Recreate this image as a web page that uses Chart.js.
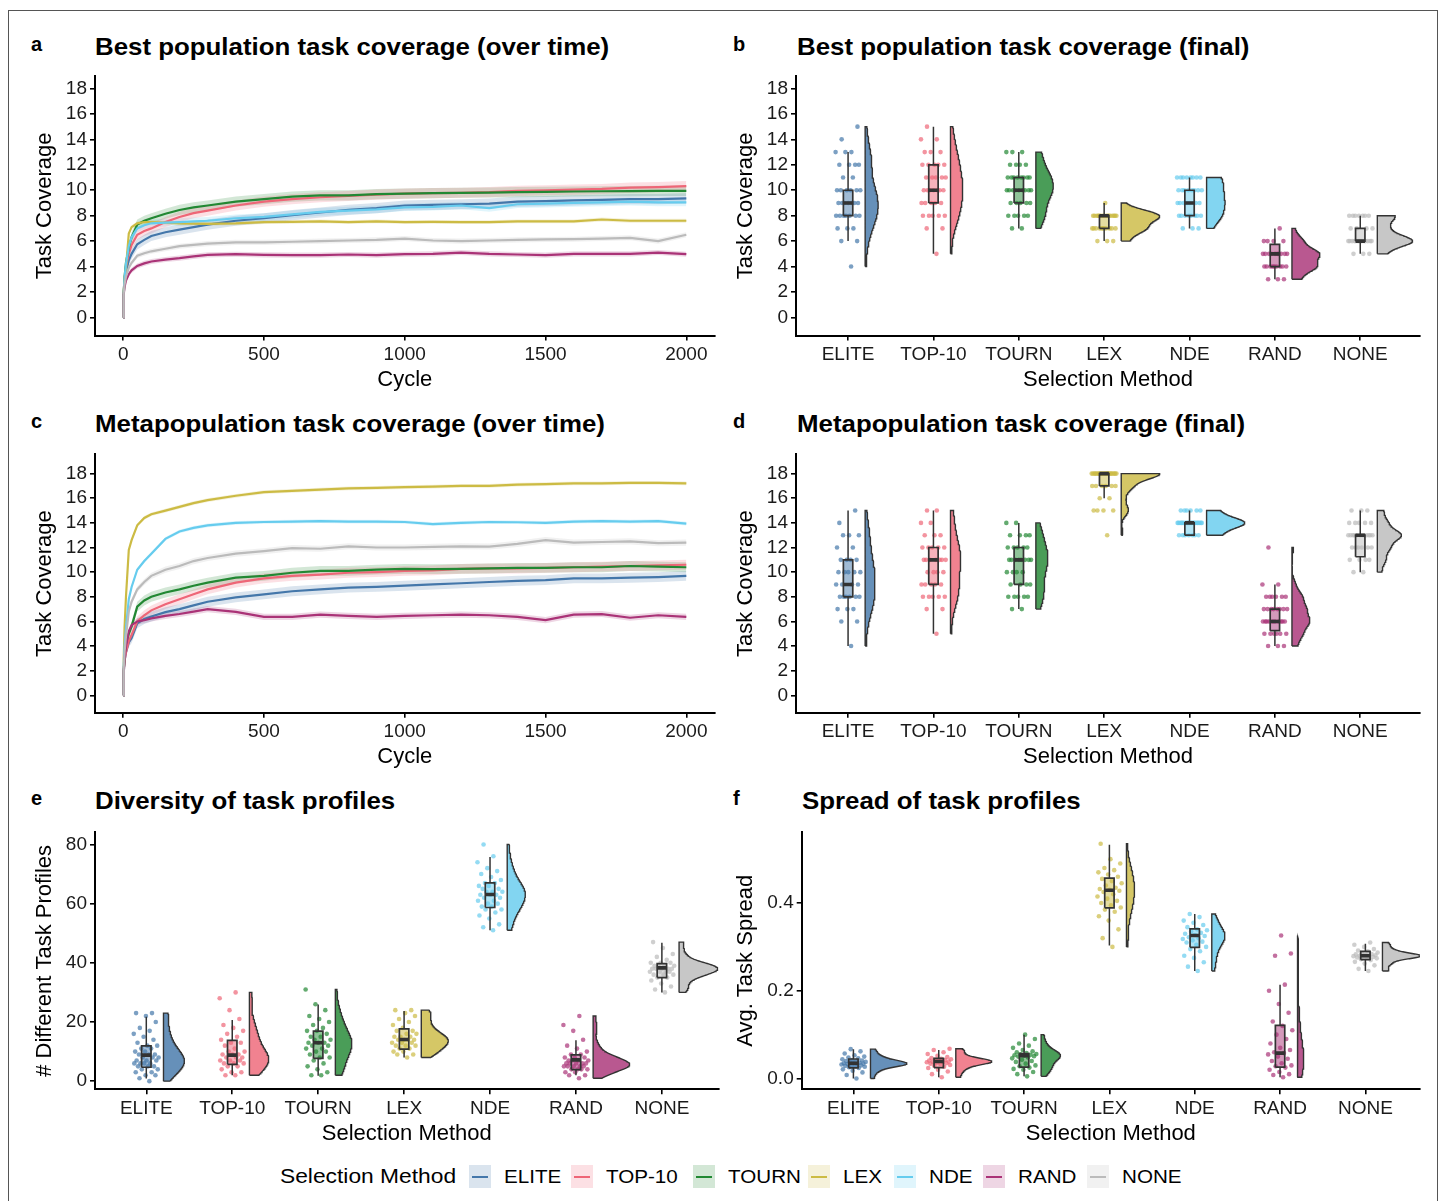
<!DOCTYPE html>
<html><head><meta charset="utf-8">
<script src="https://cdn.jsdelivr.net/npm/chart.js@4.4.1/dist/chart.umd.min.js"></script>
<style>
body{margin:0;background:#fff;width:1448px;height:1201px;position:relative;overflow:hidden;font-family:"Liberation Sans",Arial,sans-serif;color:#000;}
.frame{position:absolute;left:8px;top:10px;width:1430px;height:1220px;border:1px solid #555;box-sizing:border-box;}
.t{position:absolute;white-space:nowrap;line-height:1;font-weight:bold;transform-origin:0 50%;}
canvas{position:absolute;}
.lg{position:absolute;white-space:nowrap;line-height:1;transform-origin:0 50%;}
.sw{position:absolute;width:22px;height:23px;}
.sw i{position:absolute;left:3px;right:3px;top:10.5px;height:2px;}
</style></head>
<body>
<div class="frame"></div>
<script>
// ---------------- DATA ----------------
const CATS = ['ELITE','TOP-10','TOURN','LEX','NDE','RAND','NONE'];
const CYCLES = [0,2,5,10,20,30,50,75,100,150,200,250,300,400,500,600,700,800,900,1000,1100,1200,1300,1400,1500,1600,1700,1800,1900,2000];

// a: best population task coverage over time
const ELITE_A = [0,1.8,2.8,3.6,4.5,5.0,5.75,6.1,6.4,6.7,6.9,7.1,7.3,7.6,7.8,8.05,8.25,8.45,8.6,8.8,8.85,8.9,8.95,9.1,9.15,9.2,9.25,9.3,9.3,9.36];
const TOP10_A = [0,1.9,3.0,4.0,5.0,5.7,6.5,6.8,7.0,7.5,7.9,8.2,8.4,8.8,9.1,9.3,9.45,9.55,9.65,9.74,9.78,9.8,9.85,9.95,10.0,10.05,10.1,10.2,10.25,10.33];
const TOURN_A = [0,2.0,3.2,4.3,5.5,6.3,7.3,7.6,7.8,8.15,8.45,8.65,8.8,9.1,9.3,9.5,9.6,9.6,9.7,9.74,9.78,9.8,9.82,9.85,9.87,9.9,9.92,9.93,9.95,9.95];
const LEX_A   = [0,2.0,3.0,3.9,6.6,7.1,7.4,7.5,7.5,7.45,7.4,7.38,7.35,7.4,7.5,7.52,7.55,7.5,7.55,7.5,7.52,7.5,7.5,7.55,7.55,7.55,7.7,7.6,7.6,7.6];
const NDE_A   = [0,2.0,3.1,4.2,5.6,6.3,7.0,7.25,7.4,7.45,7.5,7.55,7.6,7.8,7.9,8.1,8.3,8.4,8.5,8.66,8.7,8.8,8.6,8.9,8.95,9.0,9.05,9.1,9.05,9.05];
const RAND_A  = [0,1.8,2.4,2.9,3.4,3.7,4.05,4.25,4.4,4.55,4.66,4.8,4.92,4.97,4.92,4.9,4.9,4.95,4.9,4.97,5.0,5.1,5.0,4.95,4.9,5.0,5.0,5.0,5.1,4.97];
const NONE_A  = [0,1.9,2.6,3.2,3.9,4.3,4.85,5.05,5.2,5.4,5.6,5.7,5.8,5.9,5.9,5.95,6.0,6.05,6.1,6.2,6.05,6.0,6.05,6.1,6.13,6.15,6.2,6.26,6.0,6.5];
const CI_A    = [0.4,0.4,0.4,0.15,0.3,0.2,0.2];

// c: metapopulation task coverage over time
const ELITE_C = [0,1.8,2.8,3.5,4.3,4.65,5.85,6.2,6.4,6.75,7.0,7.3,7.6,7.95,8.2,8.45,8.6,8.75,8.8,8.9,9.0,9.1,9.2,9.3,9.35,9.5,9.5,9.55,9.6,9.7];
const TOP10_C = [0,1.9,2.8,3.5,4.4,4.9,6.0,6.5,6.9,7.4,7.8,8.2,8.6,9.15,9.5,9.7,9.8,9.95,10.0,10.1,10.15,10.27,10.3,10.3,10.35,10.4,10.45,10.5,10.55,10.6];
const TOURN_C = [0,2.0,3.2,4.2,5.0,5.6,7.2,7.7,8.0,8.35,8.6,8.9,9.15,9.55,9.7,9.95,10.1,10.1,10.2,10.27,10.25,10.27,10.3,10.35,10.35,10.4,10.4,10.5,10.45,10.4];
const LEX_C   = [0,3.0,5.5,8.0,11.8,12.6,13.8,14.4,14.7,15.0,15.3,15.6,15.85,16.2,16.5,16.6,16.7,16.8,16.85,16.9,16.95,17.0,17.0,17.1,17.15,17.2,17.2,17.25,17.25,17.2];
const NDE_C   = [0,2.5,4.0,5.5,7.8,8.8,10.2,10.9,11.5,12.7,13.3,13.6,13.8,14.0,14.07,14.1,14.15,14.1,14.1,14.07,13.9,14.0,14.07,14.05,14.0,14.1,14.15,14.1,14.15,13.94];
const RAND_C  = [0,2.0,3.0,4.0,5.2,5.7,6.0,6.1,6.25,6.45,6.6,6.8,7.0,6.77,6.37,6.37,6.55,6.45,6.37,6.45,6.5,6.55,6.5,6.37,6.1,6.55,6.6,6.3,6.5,6.37];
const NONE_C  = [0,2.2,3.5,4.8,6.8,7.6,8.6,9.2,9.7,10.2,10.5,10.9,11.15,11.5,11.7,11.95,11.9,12.1,12.0,12.0,12.05,12.1,12.08,12.3,12.6,12.4,12.45,12.5,12.35,12.4];
const CI_C    = [0.4,0.4,0.4,0.15,0.15,0.25,0.25];

// b: best population task coverage (final), one value per replicate
const ELITE_B = [4,6,6,7,7,7,8,8,8,8,8,8,8,9,9,9,9,9,9,9,10,10,10,10,10,10,11,11,12,12,12,12,13,13,13,14,15];
const TOP10_B = [5,7,7,8,8,8,8,8,9,9,9,9,9,10,10,10,10,10,10,10,11,11,11,11,11,12,12,12,12,12,13,13,13,14,14,15];
const TOURN_B = [7,7,8,8,8,8,8,9,9,9,9,9,10,10,10,10,10,10,10,10,10,11,11,11,11,11,11,11,11,12,12,12,12,13,13,13];
const LEX_B   = [6,6,6,7,7,7,7,7,7,7,7,7,7,8,8,8,8,8,8,8,8,8,8,8,8,8,8,8,8,9];
const NDE_B   = [7,7,7,8,8,8,8,8,8,8,8,9,9,9,9,9,9,9,9,9,10,10,10,10,10,10,10,10,11,11,11,11,11,11,11,11];
const RAND_B  = [3,3,3,4,4,4,4,4,4,4,4,4,5,5,5,5,5,5,5,5,5,5,6,6,6,6,7];
const NONE_B  = [5,5,5,6,6,6,6,6,6,6,6,6,6,6,6,6,6,7,7,7,7,8,8,8,8,8,8,8];
const B_LO  = [6,5,7,6,7,3,5];
const B_Q1  = [8,9,9,7,8,4,6];
const B_MED = [9,10,10,8,9,5,6];
const B_Q3  = [10,12,11,8,10,5.75,7];
const B_HI  = [13,15,13,9,11,7,8];

// d: metapopulation task coverage (final)
const ELITE_D = [4,6,6,7,7,7,8,8,8,8,8,8,9,9,9,9,10,10,10,10,10,11,11,11,11,12,12,13,13,13,14,15];
const TOP10_D = [5,7,7,8,8,8,8,8,9,9,9,9,9,10,10,10,10,11,11,11,11,11,11,11,12,12,12,12,12,13,13,13,14,14,15,15];
const TOURN_D = [7,7,8,8,8,8,8,9,9,9,9,10,10,10,10,11,11,11,11,11,11,11,11,12,12,12,12,12,13,13,13,13,14,14];
const LEX_D   = [13,15,15,15,15,16,16,17,17,17,17,17,17,18,18,18,18,18,18,18,18,18,18,18,18,18,18,18,18,18,18,18,18,18,18];
const NDE_D   = [13,13,13,13,13,13,13,14,14,14,14,14,14,14,14,14,14,14,14,14,14,14,14,14,14,14,14,15,15,15,15,15,15];
const RAND_D  = [4,4,4,5,5,5,5,5,5,6,6,6,6,6,6,6,6,6,6,7,7,7,7,7,7,7,7,8,8,8,8,8,8,9,9,12];
const NONE_D  = [10,10,11,11,11,11,12,12,12,12,12,12,13,13,13,13,13,13,13,13,13,13,13,13,14,14,14,14,14,15,15,15];
const D_LO  = [4,5,7,16,13,4,10];
const D_Q1  = [8,9,9,17,13,5.25,11.25];
const D_MED = [9,11,11,18,14,6,13];
const D_Q3  = [11,12,12,18,14,7,13];
const D_HI  = [15,15,14,18,15,9,15];

// e: number of different task profiles
const ELITE_E = [0,1,2,2,3,3,4,4,5,5,5,6,6,6,6,7,7,7,8,8,8,9,9,9,10,10,11,11,12,12,13,14,15,16,17,18,20,22,23,23];
const TOP10_E = [2,2,3,3,4,5,5,6,6,6,7,7,7,8,8,8,9,9,9,10,10,11,12,13,13,14,15,16,17,18,19,21,24,28,30];
const TOURN_E = [2,2,3,4,5,6,7,8,8,9,10,10,11,11,12,12,13,13,13,14,14,15,15,16,17,17,18,19,20,21,22,24,26,31];
const LEX_E   = [8,9,9,10,10,11,11,12,12,12,13,13,13,14,14,14,14,15,15,15,16,16,17,17,18,19,20,21,22,23,24,24];
const NDE_E   = [51,52,53,55,56,57,58,58,59,59,60,60,61,61,62,62,63,63,63,64,64,64,65,65,66,66,67,67,68,69,70,71,72,74,76,80];
const RAND_E  = [1,2,2,3,3,4,4,4,4,5,5,5,5,5,6,6,6,6,6,7,7,7,7,8,8,8,9,9,10,11,12,14,17,19,22];
const NONE_E  = [30,31,32,33,34,35,35,36,36,36,37,37,37,37,38,38,38,38,38,39,39,39,39,40,40,40,41,42,43,45,47];
const E_LO  = [0.9,2,1.8,8,51,2,30];
const E_Q1  = [4.7,5.7,7.7,10.8,58.7,3.9,35];
const E_MED = [8.8,8.8,13,14.1,63.1,7.2,38.3];
const E_Q3  = [11.9,13.8,16.9,17.7,67,8.9,39.7];
const E_HI  = [21.8,20.7,25.9,23.7,75.8,13.8,46.8];

// f: average task spread
const ELITE_F = [0.0,0.008,0.014,0.018,0.021,0.024,0.026,0.027,0.028,0.029,0.03,0.031,0.032,0.033,0.033,0.034,0.035,0.035,0.036,0.037,0.038,0.039,0.04,0.041,0.042,0.044,0.046,0.048,0.05,0.053,0.057,0.062,0.067];
const TOP10_F = [0.003,0.01,0.016,0.02,0.024,0.027,0.029,0.031,0.033,0.034,0.035,0.036,0.037,0.038,0.038,0.039,0.04,0.041,0.042,0.043,0.044,0.045,0.047,0.049,0.052,0.056,0.06,0.065,0.068];
const TOURN_F = [0.005,0.01,0.015,0.02,0.022,0.025,0.028,0.03,0.034,0.038,0.04,0.043,0.046,0.048,0.05,0.051,0.052,0.053,0.054,0.055,0.056,0.058,0.06,0.062,0.065,0.07,0.075,0.08,0.09,0.1];
const LEX_F   = [0.30,0.32,0.34,0.36,0.37,0.38,0.385,0.39,0.395,0.40,0.405,0.41,0.415,0.42,0.425,0.428,0.43,0.432,0.435,0.44,0.445,0.45,0.455,0.46,0.465,0.47,0.475,0.48,0.49,0.50,0.535];
const NDE_F   = [0.245,0.255,0.265,0.275,0.28,0.29,0.295,0.30,0.305,0.31,0.312,0.315,0.318,0.32,0.322,0.325,0.327,0.33,0.332,0.335,0.338,0.34,0.345,0.35,0.355,0.36,0.368,0.375];
const RAND_F  = [0.003,0.008,0.01,0.015,0.02,0.025,0.028,0.03,0.035,0.04,0.045,0.05,0.055,0.058,0.06,0.065,0.07,0.08,0.09,0.1,0.11,0.12,0.13,0.15,0.17,0.2,0.214,0.28,0.285,0.326];
const NONE_F  = [0.245,0.25,0.258,0.262,0.266,0.27,0.272,0.274,0.275,0.276,0.277,0.278,0.279,0.28,0.28,0.281,0.282,0.283,0.284,0.285,0.287,0.29,0.292,0.295,0.3,0.305,0.31];
const F_LO  = [0,0.003,0.005,0.303,0.245,0.003,0.245];
const F_Q1  = [0.0245,0.025,0.026,0.389,0.299,0.026,0.271];
const F_MED = [0.035,0.039,0.052,0.429,0.326,0.058,0.28];
const F_Q3  = [0.0446,0.046,0.057,0.457,0.341,0.121,0.29];
const F_HI  = [0.067,0.065,0.1,0.533,0.375,0.214,0.307];

// tick labels
const COV_TICKS = [0,2,4,6,8,10,12,14,16,18];
const CYCLE_TICKS = [0,500,1000,1500,2000];
const CAT_TICKS = [0,1,2,3,4,5,6];
const PROFILE_TICKS = [0,20,40,60,80];
const SPREAD_TICKS = [0,0.2,0.4];

// ---------------- STYLE ----------------
const COLORS = ['#4477AA','#EE6677','#228833','#CCBB44','#66CCEE','#AA3377','#BBBBBB'];
const FONT = "'Liberation Sans', Arial, sans-serif";
const TEXT_STRETCH = 1.077;
Chart.defaults.font.family = FONT;
Chart.defaults.color = '#1a1a1a';

function rgba(hex, a) {
  const n = parseInt(hex.slice(1), 16);
  return `rgba(${(n>>16)&255},${(n>>8)&255},${n&255},${a})`;
}

function addText(txt, left, baseline, size, cls, stretch) {
  const d = document.createElement('div');
  d.className = cls || 't';
  d.textContent = txt;
  d.style.left = left + 'px';
  d.style.fontSize = size + 'px';
  d.style.top = (baseline - 0.8465 * size) + 'px';
  if (stretch) d.style.transform = `scaleX(${stretch})`;
  document.body.appendChild(d);
  return d;
}

function axisCfg(min, max, ticks, fmt, title, fit, titlePad) {
  return {
    type: 'linear', min, max,
    afterBuildTicks: s => { s.ticks = ticks.map(v => ({ value: v })); },
    afterFit: fit,
    ticks: { autoSkip: false, maxRotation: 0, padding: 3, font: { size: 19 }, color: '#1a1a1a', callback: fmt },
    grid: { display: true, drawOnChartArea: false, drawTicks: true, tickLength: 5, color: '#000', lineWidth: 1.6 },
    border: { display: true, color: '#000', width: 2 },
    title: { display: true, text: title, color: '#000', font: { size: 22 }, padding: titlePad }
  };
}

function makeChart(box, area, xr, yr, xTicks, xFmt, yTicks, yFmt, xTitle, yTitle, datasets) {
  const c = document.createElement('canvas');
  c.width = box.w; c.height = box.h;
  c.style.left = box.x + 'px'; c.style.top = box.y + 'px';
  c.style.width = box.w + 'px'; c.style.height = box.h + 'px';
  document.body.appendChild(c);
  const yW = area.left - box.x;
  const xH = (box.y + box.h) - area.bottom;
  const xTitleCenter = area.bottom + 44.2;
  const pb = (box.y + box.h) - 13.2 - xTitleCenter;
  const pt = area.yTitleX - box.x - 13.2;
  new Chart(c, {
    type: 'line',
    data: { datasets },
    options: {
      responsive: false, animation: false, devicePixelRatio: 1,
      layout: { padding: { left: 0, top: area.top - box.y, right: (box.x + box.w) - area.right, bottom: 0 } },
      plugins: { legend: { display: false }, tooltip: { enabled: false } },
      elements: { point: { radius: 0 }, line: { tension: 0 } },
      scales: {
        x: axisCfg(xr[0], xr[1], xTicks, xFmt, xTitle, s => { s.height = xH; }, { top: 0, bottom: pb }),
        y: axisCfg(yr[0], yr[1], yTicks, yFmt, yTitle, s => { s.width = yW; }, { top: pt, bottom: 0 })
      }
    }
  });
}

function lineDatasets(series, ci) {
  const ds = [];
  series.forEach((vals, s) => {
    ds.push({ data: CYCLES.map((c, i) => ({ x: c, y: Math.max(0, vals[i] - ci[s]) })), borderWidth: 0, pointRadius: 0, fill: false, order: 100 });
    ds.push({ data: CYCLES.map((c, i) => ({ x: c, y: vals[i] + ci[s] })), borderWidth: 0, pointRadius: 0, fill: '-1', backgroundColor: rgba(COLORS[s], 0.2), order: 100 });
  });
  series.forEach((vals, s) => {
    ds.push({ data: CYCLES.map((c, i) => ({ x: c, y: vals[i] })), borderColor: COLORS[s], borderWidth: 2.2, pointRadius: 0, fill: false, order: 20 - s });
  });
  return ds;
}

function kde(vals, bwFloor) {
  const n = vals.length;
  const mean = vals.reduce((a, b) => a + b, 0) / n;
  const sd = Math.sqrt(vals.reduce((a, b) => a + (b - mean) ** 2, 0) / (n - 1));
  const s = [...vals].sort((a, b) => a - b);
  const q = p => { const h = (n - 1) * p, l = Math.floor(h); const u = Math.min(l + 1, n - 1); return s[l] + (h - l) * (s[u] - s[l]); };
  const iqr = q(0.75) - q(0.25);
  let lo = Math.min(sd, iqr / 1.34);
  if (!(lo > 0)) lo = sd || 1;
  const bw = Math.max(0.9 * lo * Math.pow(n, -0.2), bwFloor);
  const out = [];
  const m = 120, a = s[0], b = s[n - 1];
  for (let i = 0; i <= m; i++) {
    const y = a + (b - a) * i / m;
    let d = 0;
    for (const v of vals) d += Math.exp(-0.5 * ((y - v) / bw) ** 2);
    out.push({ y, d: d / (n * bw * Math.sqrt(2 * Math.PI)) });
  }
  return out;
}

function jitter(k) { return (((k + 1) * 0.6180339887) % 1 - 0.5) * 0.3; }

function rainDatasets(groups, lo, q1, med, q3, hi, bwFloor) {
  const ds = [];
  const dens = groups.map(g => kde(g, bwFloor));
  const maxD = Math.max(...dens.map(d => Math.max(...d.map(p => p.d))));
  groups.forEach((vals, g) => {
    const base = g + 0.2, d = dens[g];
    const poly = [{ x: base, y: d[0].y }];
    d.forEach(p => poly.push({ x: base + 0.45 * p.d / maxD, y: p.y }));
    poly.push({ x: base, y: d[d.length - 1].y });
    poly.push({ x: base, y: d[0].y });
    ds.push({ data: poly, fill: 'shape', backgroundColor: rgba(COLORS[g], 0.82), borderColor: '#333', borderWidth: 1.4, pointRadius: 0, order: 60 });
  });
  groups.forEach((vals, g) => {
    ds.push({ data: vals.map((v, k) => ({ x: g + jitter(k), y: v })), showLine: false, pointRadius: 2.3, pointBackgroundColor: rgba(COLORS[g], 0.7), pointBorderWidth: 0, order: 50 });
  });
  const wh = [];
  groups.forEach((vals, g) => {
    wh.push({ x: g, y: lo[g] }, { x: g, y: q1[g] }, { x: g, y: null }, { x: g, y: q3[g] }, { x: g, y: hi[g] }, { x: g, y: null });
  });
  ds.push({ data: wh, borderColor: '#333', borderWidth: 1.5, pointRadius: 0, fill: false, spanGaps: false, order: 40 });
  const hw = 0.055;
  groups.forEach((vals, g) => {
    ds.push({ data: [{ x: g - hw, y: q1[g] }, { x: g + hw, y: q1[g] }, { x: g + hw, y: q3[g] }, { x: g - hw, y: q3[g] }, { x: g - hw, y: q1[g] }],
      fill: 'shape', backgroundColor: rgba(COLORS[g], 0.5), borderColor: '#333', borderWidth: 1.7, pointRadius: 0, order: 30 });
  });
  const md = [];
  groups.forEach((vals, g) => { md.push({ x: g - hw, y: med[g] }, { x: g + hw, y: med[g] }, { x: g, y: null }); });
  ds.push({ data: md, borderColor: '#333', borderWidth: 3.6, borderCapStyle: 'butt', pointRadius: 0, fill: false, spanGaps: false, order: 20 });
  return ds;
}

const numFmt = v => String(v);
const catFmt = v => CATS[Math.round(v)];
const decFmt = v => v.toFixed(1);

// ---------------- PANELS ----------------
// a
makeChart({ x: 20, y: 62, w: 700, h: 338 }, { left: 95, right: 714.5, top: 72.7, bottom: 335.5, yTitleX: 45 },
  [-100, 2100], [-1.42, 18.95], CYCLE_TICKS, numFmt, COV_TICKS, numFmt, 'Cycle', 'Task Coverage',
  lineDatasets([ELITE_A, TOP10_A, TOURN_A, LEX_A, NDE_A, RAND_A, NONE_A], CI_A));
// b
makeChart({ x: 722, y: 62, w: 718, h: 338 }, { left: 796, right: 1420, top: 72.7, bottom: 335.5, yTitleX: 746 },
  [-0.61, 6.70], [-1.42, 18.95], CAT_TICKS, catFmt, COV_TICKS, numFmt, 'Selection Method', 'Task Coverage',
  rainDatasets([ELITE_B, TOP10_B, TOURN_B, LEX_B, NDE_B, RAND_B, NONE_B], B_LO, B_Q1, B_MED, B_Q3, B_HI, 0.45));
// c
makeChart({ x: 20, y: 440, w: 700, h: 338 }, { left: 95, right: 714.5, top: 449.3, bottom: 712.7, yTitleX: 45 },
  [-100, 2100], [-1.41, 19.56], CYCLE_TICKS, numFmt, COV_TICKS, numFmt, 'Cycle', 'Task Coverage',
  lineDatasets([ELITE_C, TOP10_C, TOURN_C, LEX_C, NDE_C, RAND_C, NONE_C], CI_C));
// d
makeChart({ x: 722, y: 440, w: 718, h: 338 }, { left: 796, right: 1420, top: 449.3, bottom: 712.7, yTitleX: 746 },
  [-0.61, 6.70], [-1.41, 19.56], CAT_TICKS, catFmt, COV_TICKS, numFmt, 'Selection Method', 'Task Coverage',
  rainDatasets([ELITE_D, TOP10_D, TOURN_D, LEX_D, NDE_D, RAND_D, NONE_D], D_LO, D_Q1, D_MED, D_Q3, D_HI, 0.45));
// e
makeChart({ x: 20, y: 818, w: 706, h: 338 }, { left: 95, right: 718.6, top: 826.7, bottom: 1089.3, yTitleX: 45 },
  [-0.597, 6.66], [-2.75, 84.08], CAT_TICKS, catFmt, PROFILE_TICKS, numFmt, 'Selection Method', '# Different Task Profiles',
  rainDatasets([ELITE_E, TOP10_E, TOURN_E, LEX_E, NDE_E, RAND_E, NONE_E], E_LO, E_Q1, E_MED, E_Q3, E_HI, 0));
// f
makeChart({ x: 722, y: 818, w: 718, h: 338 }, { left: 801.7, right: 1420, top: 826.7, bottom: 1089.3, yTitleX: 746 },
  [-0.606, 6.64], [-0.0245, 0.561], CAT_TICKS, catFmt, SPREAD_TICKS, decFmt, 'Selection Method', 'Avg. Task Spread',
  rainDatasets([ELITE_F, TOP10_F, TOURN_F, LEX_F, NDE_F, RAND_F, NONE_F], F_LO, F_Q1, F_MED, F_Q3, F_HI, 0));

// ---------------- TITLES ----------------
const PANEL_TITLES = [
  ['a', 31, 51, 'Best population task coverage (over time)', 95, 55],
  ['b', 733, 51, 'Best population task coverage (final)', 797, 55],
  ['c', 31, 428, 'Metapopulation task coverage (over time)', 95, 432],
  ['d', 733, 428, 'Metapopulation task coverage (final)', 797, 432],
  ['e', 31, 805, 'Diversity of task profiles', 95, 809],
  ['f', 733, 805, 'Spread of task profiles', 802, 809]
];
PANEL_TITLES.forEach(p => { addText(p[0], p[1], p[2], 20, 't', 1); addText(p[3], p[4], p[5], 24, 't', TEXT_STRETCH); });

// ---------------- LEGEND ----------------
addText('Selection Method', 280, 1183, 21, 'lg', 1.085);
const LEG_X = [469, 571, 693, 808, 894, 983, 1087];
CATS.forEach((name, i) => {
  const s = document.createElement('div');
  s.className = 'sw';
  s.style.left = LEG_X[i] + 'px'; s.style.top = '1165px';
  s.style.background = rgba(COLORS[i], 0.2);
  const ln = document.createElement('i');
  ln.style.background = COLORS[i];
  s.appendChild(ln);
  document.body.appendChild(s);
  addText(name, LEG_X[i] + 35, 1183, 19, 'lg', 1.085);
});
</script>
</body></html>
